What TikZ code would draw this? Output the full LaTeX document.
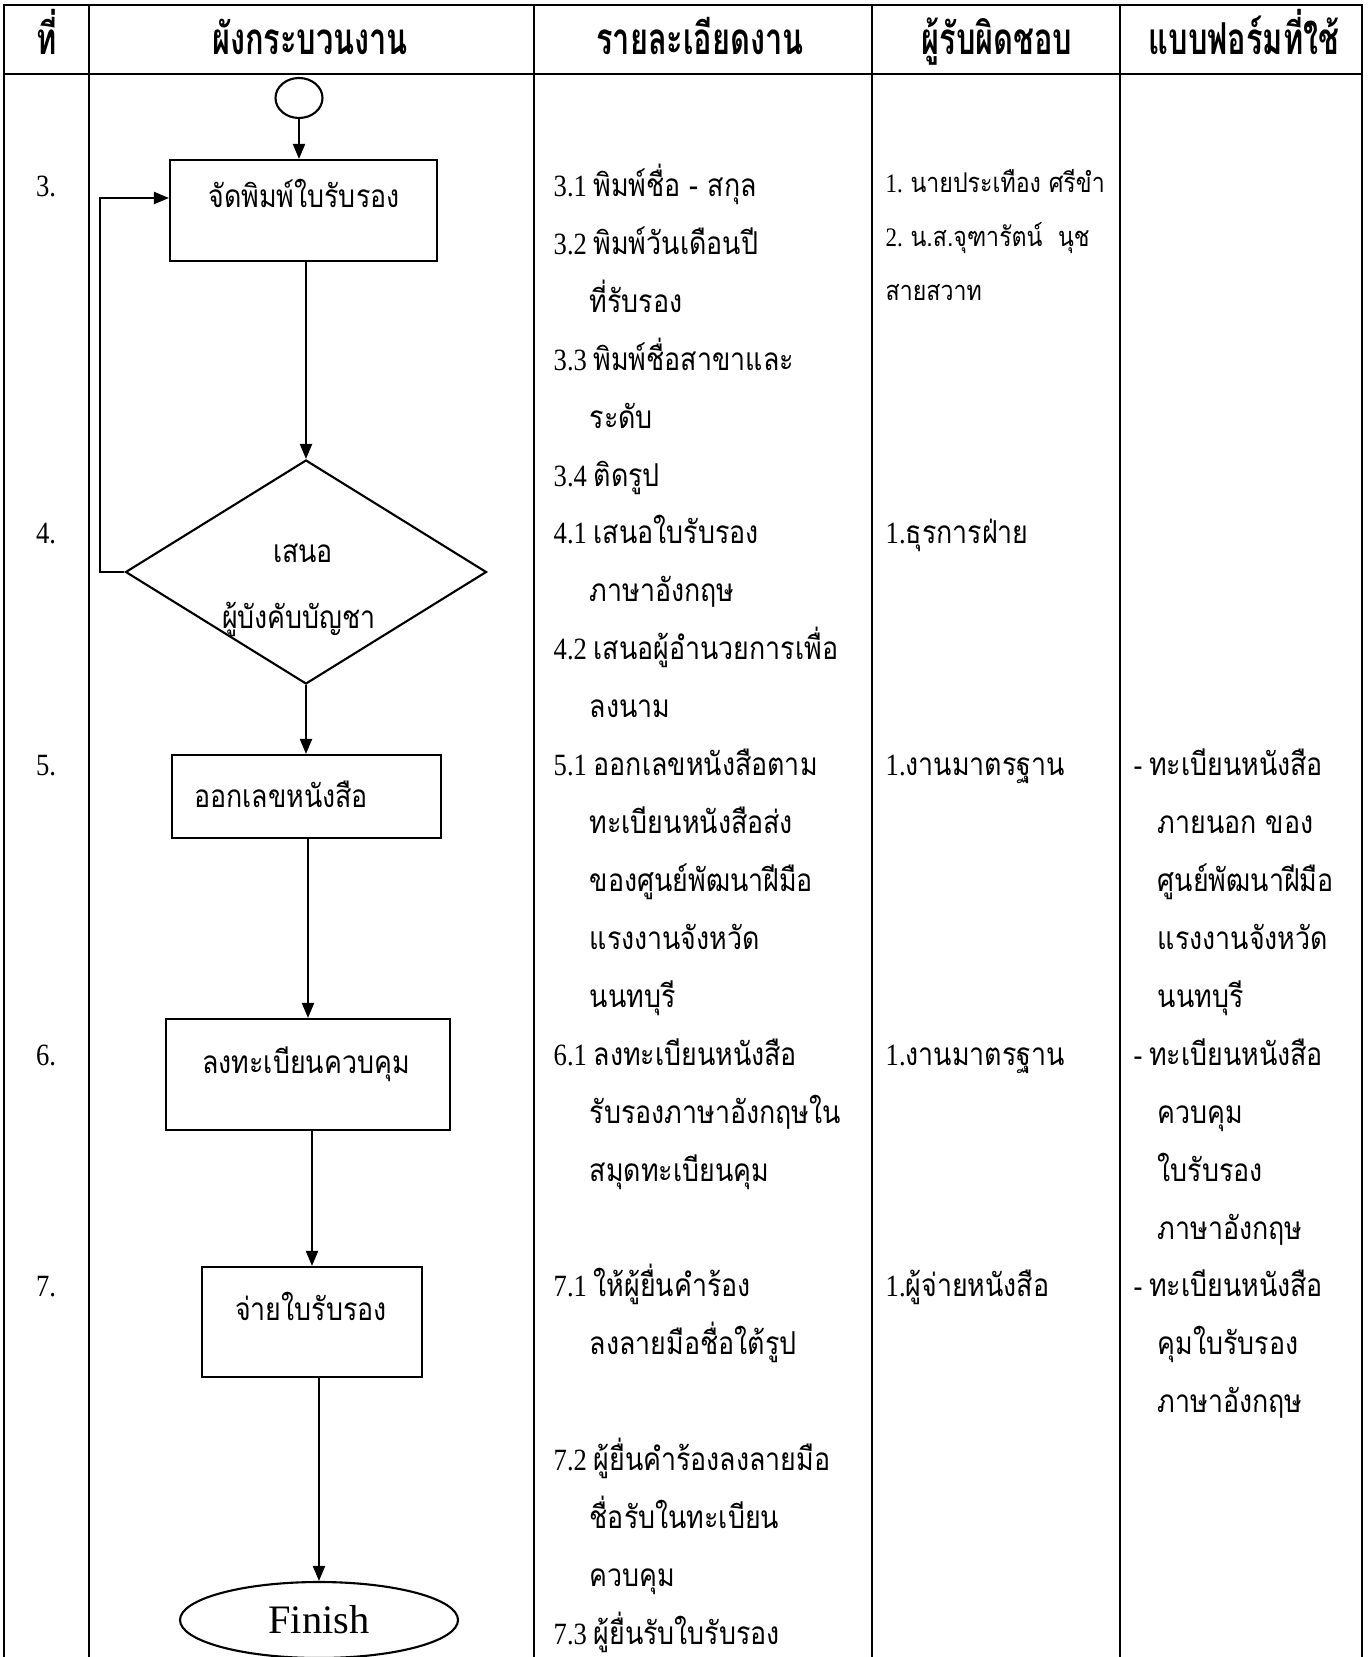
\documentclass[tikz,border=0pt]{standalone}
\usepackage{fontspec}
\usepackage{tikz}
\usetikzlibrary{shapes.geometric,arrows.meta}
\setmainfont{Liberation Serif}[FakeStretch=0.86]
\newfontfamily\finishfont{Liberation Serif}
\newfontfamily\thaifont[Script=Thai,Scale=1.02,FakeStretch=0.85]{Loma}
\newfontfamily\thaihead[Script=Thai,Scale=1.25,FakeStretch=0.70]{Loma}
\newcommand*{\thtext}[1]{{\thaifont #1}}
\newcommand*{\thhead}[1]{{\thaihead #1}}
\newcommand*{\stepind}[1][0.36cm]{\hspace*{#1}}

\begin{document}
\begin{tikzpicture}[
		tabline/.style={thick},
		proc/.style={draw,semithick,rectangle,inner sep=0pt},
		term/.style={draw,semithick,ellipse,inner sep=0pt},
		decide/.style={draw,semithick,diamond,inner sep=0pt},
		flow/.style={semithick,-{Triangle[length=0.15cm,width=0.12cm]}},
		boxtext/.style={anchor=base,inner sep=0pt,font={\fontsize{8.8}{10}\selectfont}},
		rownum/.style={anchor=base,inner sep=0pt,font={\fontsize{8.8}{10}\selectfont}},
		headtext/.style={anchor=base,inner sep=0pt,font={\fontsize{10}{12}\selectfont\bfseries}},
		body/.style={anchor=north west,inner sep=0pt,align=left,font={\fontsize{8.8}{16.47}\selectfont}},
		smalltext/.style={anchor=north west,inner sep=0pt,align=left,font={\fontsize{7.6}{15.4}\selectfont}}]
			\useasboundingbox (0,0) rectangle (13.67,-16.57);
			% table
			\draw[tabline] (0.04,-16.57)--(0.04,-0.05)--(13.62,-0.05)--(13.62,-16.57);
			\draw[tabline] (0.04,-0.74)--(13.62,-0.74);
			\draw[tabline] (0.89,-0.05)--(0.89,-16.57);
			\draw[tabline] (5.34,-0.05)--(5.34,-16.57);
			\draw[tabline] (8.72,-0.05)--(8.72,-16.57);
			\draw[tabline] (11.20,-0.05)--(11.20,-16.57);
			\node[headtext] (h0) at (0.47,-0.55) {\thhead{ที่}};
			\node[headtext] (h1) at (3.10,-0.55) {\thhead{ผังกระบวนงาน}};
			\node[headtext] (h2) at (7.00,-0.55) {\thhead{รายละเอียดงาน}};
			\node[headtext] (h3) at (9.97,-0.55) {\thhead{ผู้รับผิดชอบ}};
			\node[headtext] (h4) at (12.44,-0.55) {\thhead{แบบฟอร์มที่ใช้}};
			\node[rownum] (n3) at (0.46,-1.96) {3.};
			\node[rownum] (n4) at (0.46,-5.43) {4.};
			\node[rownum] (n5) at (0.46,-7.75) {5.};
			\node[rownum] (n6) at (0.46,-10.65) {6.};
			\node[rownum] (n7) at (0.46,-12.96) {7.};
			% flow chart
			\node[term,minimum width=0.47cm,minimum height=0.40cm] (start) at (2.99,-0.98) {};
			\node[proc,minimum width=2.67cm,minimum height=1.01cm] (print) at (3.035,-2.105) {};
			\node[boxtext] (printtxt) at (3.04,-2.08) {\thtext{จัดพิมพ์ใบรับรอง}};
			\node[decide,minimum width=3.61cm,minimum height=2.24cm] (approve) at (3.06,-5.72) {};
			\node[boxtext] (approvetxt) at (3.03,-5.62) {\thtext{เสนอ}};
			\node[boxtext] (approvetxtb) at (2.99,-6.28) {\thtext{ผู้บังคับบัญชา}};
			\node[proc,minimum width=2.69cm,minimum height=0.83cm] (number) at (3.065,-7.965) {};
			\node[boxtext] (numbertxt) at (2.81,-8.07) {\thtext{ออกเลขหนังสือ}};
			\node[proc,minimum width=2.84cm,minimum height=1.11cm] (register) at (3.08,-10.745) {};
			\node[boxtext] (registertxt) at (3.06,-10.73) {\thtext{ลงทะเบียนควบคุม}};
			\node[proc,minimum width=2.20cm,minimum height=1.10cm] (issue) at (3.12,-13.22) {};
			\node[boxtext] (issuetxt) at (3.11,-13.20) {\thtext{จ่ายใบรับรอง}};
			\node[term,minimum width=2.78cm,minimum height=0.76cm] (finish) at (3.19,-16.20) {\finishfont\fontsize{11.5}{12}\selectfont Finish};
			\coordinate (back) at (1.00,-1.98);
			\draw[flow] (start.south) -- (start.south |- print.north);
			\draw[flow] (print.south -| approve.north) -- (approve.north);
			\draw[flow] (approve.west) -| (back) -- (back -| print.west);
			\draw[flow] (approve.south) -- (approve.south |- number.north);
			\draw[flow] (number.south -| register.north) -- (register.north);
			\draw[flow] (register.south -| issue.north) -- (issue.north);
			\draw[flow] (issue.south -| finish.north) -- (finish.north);
			% details
			\node[body] (d3) at (5.53,-1.46) {\rule{0pt}{0.5cm}3.1 \thtext{พิมพ์ชื่อ - สกุล}\\3.2 \thtext{พิมพ์วันเดือนปี}\\\stepind\thtext{ที่รับรอง}\\3.3 \thtext{พิมพ์ชื่อสาขาและ}\\\stepind\thtext{ระดับ}\\3.4 \thtext{ติดรูป}};
			\node[body] (d4) at (5.53,-4.93) {\rule{0pt}{0.5cm}4.1 \thtext{เสนอใบรับรอง}\\\stepind\thtext{ภาษาอังกฤษ}\\4.2 \thtext{เสนอผู้อำนวยการเพื่อ}\\\stepind\thtext{ลงนาม}};
			\node[body] (d5) at (5.53,-7.25) {\rule{0pt}{0.5cm}5.1 \thtext{ออกเลขหนังสือตาม}\\\stepind\thtext{ทะเบียนหนังสือส่ง}\\\stepind\thtext{ของศูนย์พัฒนาฝีมือ}\\\stepind\thtext{แรงงานจังหวัด}\\\stepind\thtext{นนทบุรี}};
			\node[body] (d6) at (5.53,-10.15) {\rule{0pt}{0.5cm}6.1 \thtext{ลงทะเบียนหนังสือ}\\\stepind\thtext{รับรองภาษาอังกฤษใน}\\\stepind\thtext{สมุดทะเบียนคุม}};
			\node[body] (d7a) at (5.53,-12.46) {\rule{0pt}{0.5cm}7.1 \thtext{ให้ผู้ยื่นคำร้อง}\\\stepind\thtext{ลงลายมือชื่อใต้รูป}};
			\node[body] (d7b) at (5.53,-14.20) {\rule{0pt}{0.5cm}7.2 \thtext{ผู้ยื่นคำร้องลงลายมือ}\\\stepind\thtext{ชื่อรับในทะเบียน}\\\stepind\thtext{ควบคุม}\\7.3 \thtext{ผู้ยื่นรับใบรับรอง}};
			% responsible
			\node[smalltext] (r3) at (8.85,-1.52) {\rule{0pt}{0.4cm}1. \thtext{นายประเทือง ศรีขำ}\\2. \thtext{น.ส.จุฑารัตน์ \ นุช}\\\thtext{สายสวาท}};
			\node[body] (r4) at (8.85,-4.93) {\rule{0pt}{0.5cm}1.\thtext{ธุรการฝ่าย}};
			\node[body] (r5) at (8.85,-7.25) {\rule{0pt}{0.5cm}1.\thtext{งานมาตรฐาน}};
			\node[body] (r6) at (8.85,-10.15) {\rule{0pt}{0.5cm}1.\thtext{งานมาตรฐาน}};
			\node[body] (r7) at (8.85,-12.46) {\rule{0pt}{0.5cm}1.\thtext{ผู้จ่ายหนังสือ}};
			% forms
			\node[body] (f5) at (11.33,-7.25) {\rule{0pt}{0.5cm}- \thtext{ทะเบียนหนังสือ}\\\stepind[0.24cm]\thtext{ภายนอก ของ}\\\stepind[0.24cm]\thtext{ศูนย์พัฒนาฝีมือ}\\\stepind[0.24cm]\thtext{แรงงานจังหวัด}\\\stepind[0.24cm]\thtext{นนทบุรี}};
			\node[body] (f6) at (11.33,-10.15) {\rule{0pt}{0.5cm}- \thtext{ทะเบียนหนังสือ}\\\stepind[0.24cm]\thtext{ควบคุม}\\\stepind[0.24cm]\thtext{ใบรับรอง}\\\stepind[0.24cm]\thtext{ภาษาอังกฤษ}};
			\node[body] (f7) at (11.33,-12.46) {\rule{0pt}{0.5cm}- \thtext{ทะเบียนหนังสือ}\\\stepind[0.24cm]\thtext{คุมใบรับรอง}\\\stepind[0.24cm]\thtext{ภาษาอังกฤษ}};
		\end{tikzpicture}
\end{document}
